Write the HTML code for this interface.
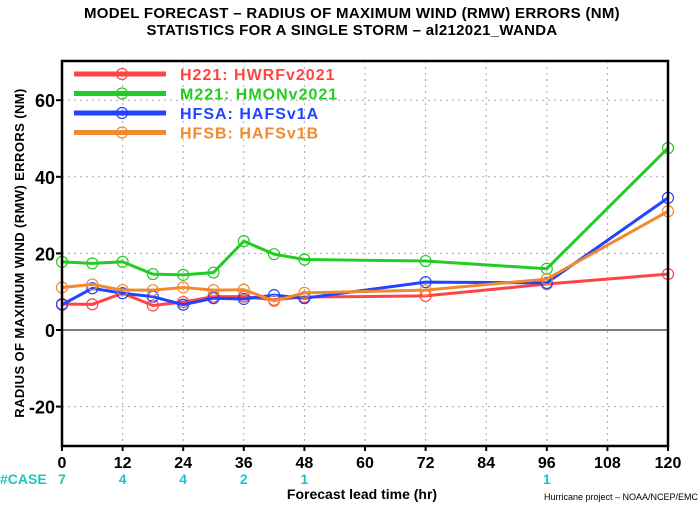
<!DOCTYPE html>
<html><head><meta charset="utf-8"><style>
body{margin:0;background:#fff;width:700px;height:503px;overflow:hidden}
svg{font-family:"Liberation Sans",sans-serif}
</style></head><body>
<svg id="chart" width="700" height="503" xmlns="http://www.w3.org/2000/svg">
<text x="352" y="18" text-anchor="middle" font-size="15" font-weight="bold" letter-spacing="0.3" fill="#000">MODEL FORECAST – RADIUS OF MAXIMUM WIND (RMW) ERRORS (NM)</text>
<text x="352" y="35" text-anchor="middle" font-size="15" font-weight="bold" letter-spacing="0.3" fill="#000">STATISTICS FOR A SINGLE STORM – al212021_WANDA</text>
<g id="grid"></g>
<g id="series"></g>
<rect x="62" y="61" width="606" height="385" fill="none" stroke="#000" stroke-width="2.5"/>
<g id="axes"></g>
<text transform="translate(24,253) rotate(-90)" text-anchor="middle" font-size="13" font-weight="bold" letter-spacing="0.4">RADIUS OF MAXIMUM WIND (RMW) ERRORS (NM)</text>
<text x="0" y="484" font-size="14" font-weight="bold" fill="#1cc6c6">#CASE</text>
<text x="362" y="499" text-anchor="middle" font-size="14" font-weight="bold">Forecast lead time (hr)</text>
<text x="698" y="500" text-anchor="end" font-size="9">Hurricane project – NOAA/NCEP/EMC</text>
<g id="legend"></g>
</svg>
<script>
const hours=[0,6,12,18,24,30,36,42,48,72,96,120];
const h221=[6.8,6.7,9.6,6.4,7.3,8.7,8.7,7.9,8.6,8.9,12.0,14.6];
const m221=[17.8,17.4,17.8,14.6,14.4,15.0,23.2,19.8,18.4,18.0,16.0,47.5];
const hfsa=[6.6,10.9,9.6,8.7,6.6,8.3,8.1,9.1,8.3,12.5,12.3,34.5];
const hfsb=[11.1,11.9,10.4,10.4,11.1,10.4,10.5,7.6,9.7,10.4,13.3,31.0];
const seriesNames=["H221:  HWRFv2021","M221:  HMONv2021","HFSA:  HAFSv1A","HFSB:  HAFSv1B"];
const xTicks=[0,12,24,36,48,60,72,84,96,108,120];
const yTicks=[-20,0,20,40,60];
const caseHours=[0,12,24,36,48,96];
const caseCounts=[7,4,4,2,1,1];
const colors=["#ff4444","#22cc22","#2244ff","#f08a30"];
const data=[h221,m221,hfsa,hfsb];
const NS="http://www.w3.org/2000/svg";
const X=h=>62+h*(606/120);
const Y=v=>330-v*3.83;
function mk(t,a,p){const e=document.createElementNS(NS,t);for(const k in a)e.setAttribute(k,a[k]);p.appendChild(e);return e;}
const grid=document.getElementById('grid'),axes=document.getElementById('axes'),ser=document.getElementById('series'),leg=document.getElementById('legend');
xTicks.forEach(t=>{
 if(t>0&&t<120){const l=mk('line',{x1:X(t),x2:X(t),y1:61,y2:446,stroke:'#aaa','stroke-dasharray':'2,4'},grid);
 
 }
 const tx=mk('text',{x:X(t),y:468,'text-anchor':'middle','font-size':'16','font-weight':'bold'},axes);tx.textContent=t;
 
 
 mk('line',{x1:X(t),x2:X(t),y1:446,y2:451,stroke:'#000','stroke-width':2},axes);
});
yTicks.forEach(v=>{
 if(v!==0){const l=mk('line',{x1:62,x2:668,y1:Y(v),y2:Y(v),stroke:'#aaa','stroke-dasharray':'2,4'},grid);
 
 }
 const tx=mk('text',{x:55,y:Y(v)+7,'text-anchor':'end','font-size':'18','font-weight':'bold'},axes);tx.textContent=v;
 
 
 mk('line',{x1:56,x2:62,y1:Y(v),y2:Y(v),stroke:'#000','stroke-width':2},axes);
});
const zl=mk('line',{x1:62,x2:668,y1:Y(0),y2:Y(0),stroke:'#555','stroke-width':1.5},grid);


caseHours.forEach((h,i)=>{const t=mk('text',{x:X(h),y:484,'text-anchor':'middle','font-size':'14','font-weight':'bold',fill:'#1cc6c6'},axes);t.textContent=caseCounts[i];
 
 });
data.forEach((d,s)=>{
 const pl=mk('polyline',{points:d.map((v,i)=>X(hours[i])+','+Y(v)).join(' '),fill:'none',stroke:colors[s],'stroke-width':3},ser);
 
 
 d.forEach((v,i)=>{const c=mk('circle',{cx:X(hours[i]),cy:Y(v),r:5.5,fill:'none',stroke:colors[s],'stroke-width':1.2},ser);
 
 });
 const ly=74+s*19.5;
 const ll=mk('line',{x1:74,x2:166,y1:ly,y2:ly,stroke:colors[s],'stroke-width':5},leg);
 
 
 mk('circle',{cx:122,cy:ly,r:5.5,fill:'none',stroke:colors[s],'stroke-width':1.2},leg);
 const lt=mk('text',{x:180,y:ly+6,'font-size':'16','font-weight':'bold','letter-spacing':'1',fill:colors[s]},leg);lt.textContent=seriesNames[s];
 
 
});
</script>
</body></html>
